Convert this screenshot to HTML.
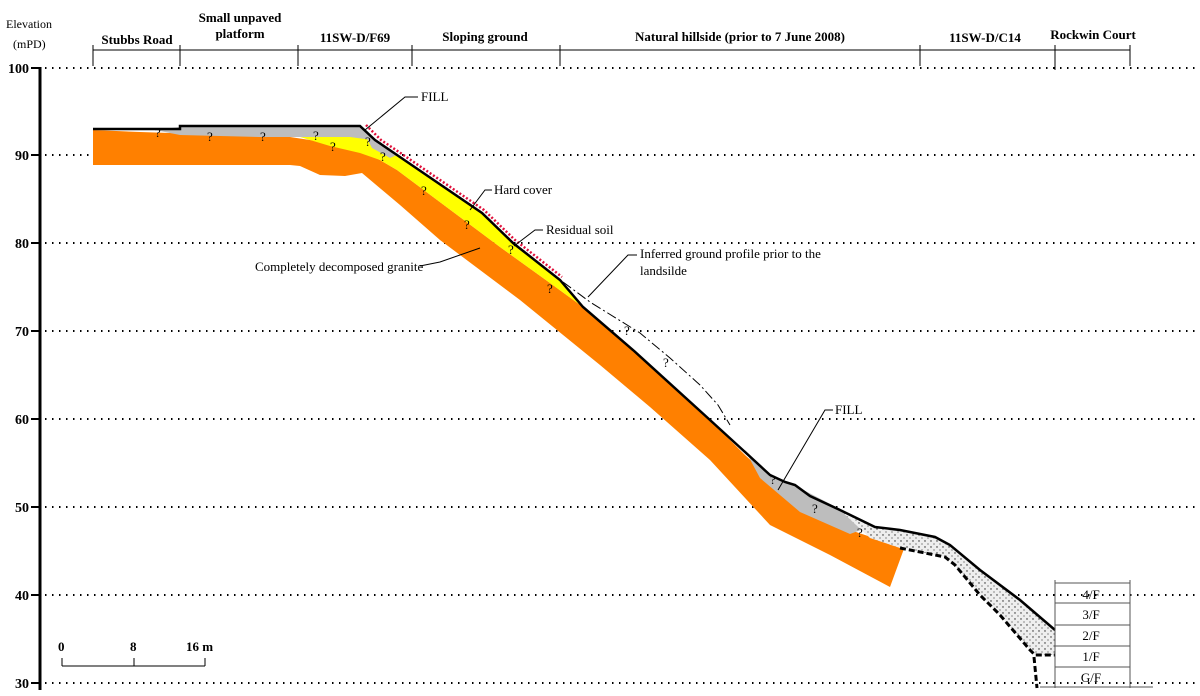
<!DOCTYPE html>
<html><head><meta charset="utf-8"><style>
html,body{margin:0;padding:0;background:#fff;width:1200px;height:696px;overflow:hidden}
svg{display:block}
text{font-family:"Liberation Serif",serif;font-size:13px;fill:#000}
</style></head><body>
<svg width="1200" height="696" viewBox="0 0 1200 696" xmlns="http://www.w3.org/2000/svg">
<defs>
<pattern id="dots" width="6" height="6" patternUnits="userSpaceOnUse">
<rect width="6" height="6" fill="#eeeeee"/><circle cx="1" cy="1" r="0.7" fill="#222"/><circle cx="4" cy="4" r="0.6" fill="#444"/>
</pattern>
</defs>
<g stroke="#000" stroke-width="2" stroke-dasharray="1.5 5.5" fill="none">
<line x1="45" y1="68" x2="1195" y2="68"/>
<line x1="45" y1="155" x2="1195" y2="155"/>
<line x1="45" y1="243" x2="1195" y2="243"/>
<line x1="45" y1="331" x2="1195" y2="331"/>
<line x1="45" y1="419" x2="1195" y2="419"/>
<line x1="45" y1="507" x2="1195" y2="507"/>
<line x1="45" y1="595" x2="1195" y2="595"/>
<line x1="45" y1="683" x2="1195" y2="683"/>
</g>
<line x1="40" y1="67" x2="40" y2="690" stroke="#000" stroke-width="3"/>
<g stroke="#000" stroke-width="2">
<line x1="31" y1="68" x2="40" y2="68"/><line x1="31" y1="155" x2="40" y2="155"/><line x1="31" y1="243" x2="40" y2="243"/><line x1="31" y1="331" x2="40" y2="331"/><line x1="31" y1="419" x2="40" y2="419"/><line x1="31" y1="507" x2="40" y2="507"/><line x1="31" y1="595" x2="40" y2="595"/><line x1="31" y1="683" x2="40" y2="683"/>
</g>
<g font-weight="bold" text-anchor="end">
<text x="29" y="73" style="font-size:14px">100</text><text x="29" y="160" style="font-size:14px">90</text><text x="29" y="248" style="font-size:14px">80</text><text x="29" y="336" style="font-size:14px">70</text><text x="29" y="424" style="font-size:14px">60</text><text x="29" y="512" style="font-size:14px">50</text><text x="29" y="600" style="font-size:14px">40</text><text x="29" y="688" style="font-size:14px">30</text>
</g>
<text x="6" y="28" style="font-size:12px">Elevation</text>
<text x="13" y="48" style="font-size:12px">(mPD)</text>
<g stroke="#000" stroke-width="1">
<line x1="93" y1="50" x2="1130" y2="50"/>
<line x1="93" y1="45" x2="93" y2="66"/><line x1="180" y1="45" x2="180" y2="66"/><line x1="298" y1="45" x2="298" y2="66"/><line x1="412" y1="45" x2="412" y2="66"/><line x1="560" y1="45" x2="560" y2="66"/><line x1="920" y1="45" x2="920" y2="66"/><line x1="1055" y1="45" x2="1055" y2="70"/><line x1="1130" y1="45" x2="1130" y2="66"/>
</g>
<g font-weight="bold" text-anchor="middle" style="font-size:12px">
<text x="137" y="44">Stubbs Road</text>
<text x="240" y="22">Small unpaved</text><text x="240" y="38">platform</text>
<text x="355" y="42">11SW-D/F69</text>
<text x="485" y="41">Sloping ground</text>
<text x="740" y="41">Natural hillside (prior to 7 June 2008)</text>
<text x="985" y="42">11SW-D/C14</text>
<text x="1093" y="39">Rockwin  Court</text>
</g>
<polygon fill="#ff8000" points="93,130 140,132 290,137 310,140 355,148 380,160 397,170 500,247 550,283 583,307 633,350 710,420 745,455 770,478 790,492 850,530 880,540 905,546 890,587 830,555 770,525 710,460 650,407 600,365 520,300 440,240 400,205 362,173 345,176 320,175 300,166 290,165 93,165"/>
<polygon fill="#ffff00" points="300,137 358,137 372,140 397,155 482,213 513,243 560,280 583,307 550,283 500,247 397,170 380,160 360,153 330,146"/>
<polygon fill="#bdbdbd" points="155,130 180,127 360,126 372,140 350,137 300,137 260,137 180,135"/>
<polygon fill="#bdbdbd" points="360,126 378,142 397,155 390,158 372,148"/>
<polygon fill="#bdbdbd" points="745,450 770,474 790,483 840,509 872,526 850,534 800,512 760,478"/>
<polygon fill="url(#dots)" points="840,510 875,527 900,530 935,537 950,545 980,570 1020,600 1055,630 1055,655 1035,655 1030,650 1000,615 980,595 955,565 945,557 900,548 870,538"/>
<polyline fill="none" stroke="#e0103a" stroke-width="2.5" stroke-dasharray="2 2" points="366,125 381,140 399,152 484,210 515,240 562,277"/>
<polyline fill="none" stroke="#000" stroke-width="2.5" points="93,129 180,129 180,126 360,126 375,140 397,155 482,213 513,243 560,280 583,307 633,350 710,420 745,452 770,475 785,482 795,485 810,496 840,510 875,527 900,530 935,537 950,545 980,570 1020,600 1055,630"/>
<polyline fill="none" stroke="#000" stroke-width="1" stroke-dasharray="10 3 2 3" points="563,282 590,302 640,333 670,358 700,385 718,405 730,425"/>
<polyline fill="none" stroke="#000" stroke-width="3" stroke-dasharray="6 3" points="900,548 945,557 955,565 980,595 1000,615 1030,650 1035,655 1055,655"/>
<polyline fill="none" stroke="#000" stroke-width="3" stroke-dasharray="6 3" points="1034,657 1037,688"/>
<g style="font-size:11px">
<text x="155" y="137">?</text><text x="207" y="141">?</text><text x="260" y="141">?</text><text x="313" y="140">?</text><text x="330" y="151">?</text><text x="365" y="146">?</text><text x="380" y="161">?</text><text x="421" y="195">?</text><text x="464" y="229">?</text><text x="508" y="254">?</text><text x="547" y="293">?</text><text x="624" y="335">?</text><text x="663" y="367">?</text><text x="770" y="484">?</text><text x="812" y="513">?</text><text x="857" y="537">?</text>
</g>
<g stroke="#000" stroke-width="1" fill="none">
<polyline points="418,97 405,97 365,130"/>
<polyline points="492,190 485,190 470,210"/>
<polyline points="543,230 535,230 514,246"/>
<polyline points="420,266 440,262 480,248"/>
<polyline points="637,255 628,255 588,297"/>
<polyline points="833,410 825,410 778,490"/>
</g>
<g style="font-size:12px">
<text x="421" y="101">FILL</text>
<text x="494" y="194">Hard cover</text>
<text x="546" y="234">Residual soil</text>
<text x="255" y="271">Completely decomposed granite</text>
<text x="640" y="258">Inferred ground profile prior to the</text>
<text x="640" y="275">landsilde</text>
<text x="835" y="414">FILL</text>
</g>
<g stroke="#555" stroke-width="1" fill="none">
<line x1="1055" y1="580" x2="1055" y2="688"/><line x1="1130" y1="580" x2="1130" y2="688"/>
<line x1="1055" y1="583" x2="1130" y2="583"/><line x1="1055" y1="603" x2="1130" y2="603"/><line x1="1055" y1="625" x2="1130" y2="625"/><line x1="1055" y1="646" x2="1130" y2="646"/><line x1="1055" y1="667" x2="1130" y2="667"/><line x1="1040" y1="687" x2="1153" y2="687"/>
</g>
<g text-anchor="middle" style="font-size:12px">
<text x="1091" y="599">4/F</text><text x="1091" y="619">3/F</text><text x="1091" y="640">2/F</text><text x="1091" y="661">1/F</text><text x="1091" y="682">G/F</text>
</g>
<g stroke="#000" stroke-width="1">
<line x1="62" y1="666" x2="205" y2="666"/><line x1="62" y1="658" x2="62" y2="666"/><line x1="134" y1="658" x2="134" y2="666"/><line x1="205" y1="658" x2="205" y2="666"/>
</g>
<g style="font-size:14px" font-weight="bold">
<text x="58" y="651">0</text><text x="130" y="651">8</text><text x="186" y="651">16 m</text>
</g>
</svg>
</body></html>
